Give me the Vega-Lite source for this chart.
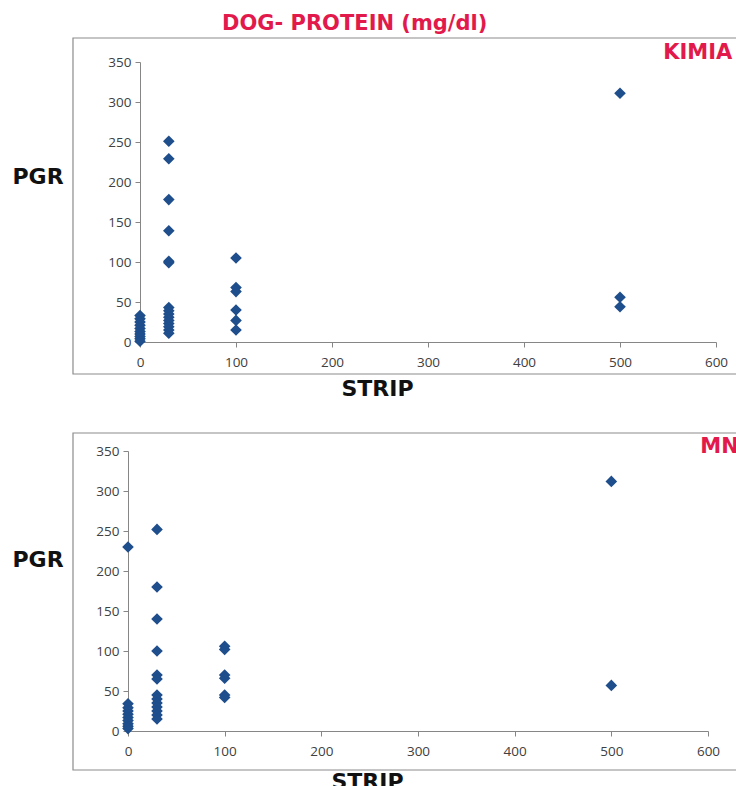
{
  "$schema": "https://vega.github.io/schema/vega-lite/v6.json",
  "background": "white",
  "padding": {"left": 12, "top": 13, "right": 0, "bottom": 0},
  "title": {"text": "DOG- PROTEIN (mg/dl)", "anchor": "start", "frame": "group", "dx": 94, "offset": -14, "baseline": "alphabetic", "font": "DejaVu Sans", "fontSize": 21, "fontWeight": "bold", "color": "#e21a4b"},
  "datasets": {
    "kimia": [
      {"strip": 0, "pgr": 33}, {"strip": 0, "pgr": 29}, {"strip": 0, "pgr": 25}, {"strip": 0, "pgr": 21}, {"strip": 0, "pgr": 17}, {"strip": 0, "pgr": 13}, {"strip": 0, "pgr": 10}, {"strip": 0, "pgr": 7}, {"strip": 0, "pgr": 4}, {"strip": 0, "pgr": 1},
      {"strip": 30, "pgr": 251}, {"strip": 30, "pgr": 229}, {"strip": 30, "pgr": 178}, {"strip": 30, "pgr": 139}, {"strip": 30, "pgr": 101}, {"strip": 30, "pgr": 99}, {"strip": 30, "pgr": 43}, {"strip": 30, "pgr": 39}, {"strip": 30, "pgr": 35}, {"strip": 30, "pgr": 31}, {"strip": 30, "pgr": 27}, {"strip": 30, "pgr": 23}, {"strip": 30, "pgr": 19}, {"strip": 30, "pgr": 15}, {"strip": 30, "pgr": 11},
      {"strip": 100, "pgr": 105}, {"strip": 100, "pgr": 68}, {"strip": 100, "pgr": 63}, {"strip": 100, "pgr": 40}, {"strip": 100, "pgr": 27}, {"strip": 100, "pgr": 15},
      {"strip": 500, "pgr": 311}, {"strip": 500, "pgr": 56}, {"strip": 500, "pgr": 44}
    ],
    "mn": [
      {"strip": 0, "pgr": 230}, {"strip": 0, "pgr": 34}, {"strip": 0, "pgr": 29}, {"strip": 0, "pgr": 25}, {"strip": 0, "pgr": 21}, {"strip": 0, "pgr": 17}, {"strip": 0, "pgr": 13}, {"strip": 0, "pgr": 9}, {"strip": 0, "pgr": 6}, {"strip": 0, "pgr": 3},
      {"strip": 30, "pgr": 252}, {"strip": 30, "pgr": 180}, {"strip": 30, "pgr": 140}, {"strip": 30, "pgr": 100}, {"strip": 30, "pgr": 70}, {"strip": 30, "pgr": 65}, {"strip": 30, "pgr": 45}, {"strip": 30, "pgr": 40}, {"strip": 30, "pgr": 35}, {"strip": 30, "pgr": 30}, {"strip": 30, "pgr": 25}, {"strip": 30, "pgr": 20}, {"strip": 30, "pgr": 15},
      {"strip": 100, "pgr": 106}, {"strip": 100, "pgr": 102}, {"strip": 100, "pgr": 70}, {"strip": 100, "pgr": 66}, {"strip": 100, "pgr": 45}, {"strip": 100, "pgr": 42},
      {"strip": 500, "pgr": 312}, {"strip": 500, "pgr": 57}
    ]
  },
  "bounds": "flush",
  "spacing": 109,
  "vconcat": [
    {
      "width": 588,
      "height": 280,
      "layer": [
        {
          "data": {"name": "kimia"},
          "mark": {"type": "point", "shape": "diamond", "filled": true, "size": 135, "color": "#1f4e8c", "opacity": 1, "clip": false},
          "encoding": {
            "x": {"field": "strip", "type": "quantitative", "scale": {"domain": [0, 600], "range": [12, 588], "nice": false, "zero": false},
              "axis": {"values": [0, 100, 200, 300, 400, 500, 600], "labelOverlap": false, "title": "STRIP", "titleX": 249, "titleY": 46, "titleAlign": "center", "titleBaseline": "middle", "labelPadding": 8}},
            "y": {"field": "pgr", "type": "quantitative", "scale": {"domain": [0, 350], "nice": false, "zero": false},
              "axis": {"values": [0, 50, 100, 150, 200, 250, 300, 350], "tickCount": 8, "labelOverlap": false, "labelFlush": false, "title": "PGR", "offset": -12, "titleX": -128, "titleY": 114, "titleAlign": "left", "titleBaseline": "middle", "titleAngle": 0, "labelPadding": 4}}
          }
        },
        {
          "data": {"values": [{}]},
          "mark": {"type": "rect", "filled": false, "color": "#8c8c8c", "strokeWidth": 1.2, "clip": false},
          "encoding": {
            "x": {"datum": -69.8, "type": "quantitative"},
            "x2": {"datum": 640},
            "y": {"datum": 380, "type": "quantitative"},
            "y2": {"datum": -40}
          }
        },
        {
          "data": {"values": [{}]},
          "mark": {"type": "text", "text": "KIMIA", "align": "left", "baseline": "middle", "font": "DejaVu Sans", "fontSize": 21, "fontWeight": "bold", "color": "#e21a4b", "clip": false},
          "encoding": {
            "x": {"datum": 545, "type": "quantitative"},
            "y": {"datum": 361, "type": "quantitative"}
          }
        }
      ]
    },
    {
      "width": 580,
      "height": 280,
      "layer": [
        {
          "data": {"name": "mn"},
          "mark": {"type": "point", "shape": "diamond", "filled": true, "size": 135, "color": "#1f4e8c", "opacity": 1, "clip": false},
          "encoding": {
            "x": {"field": "strip", "type": "quantitative", "scale": {"domain": [0, 600], "nice": false, "zero": false},
              "axis": {"values": [0, 100, 200, 300, 400, 500, 600], "labelOverlap": false, "title": "STRIP", "titleX": 239, "titleY": 50, "titleAlign": "center", "titleBaseline": "middle", "labelPadding": 8}},
            "y": {"field": "pgr", "type": "quantitative", "scale": {"domain": [0, 350], "nice": false, "zero": false},
              "axis": {"values": [0, 50, 100, 150, 200, 250, 300, 350], "tickCount": 8, "labelOverlap": false, "labelFlush": false, "title": "PGR", "titleX": -116, "titleY": 108, "titleAlign": "left", "titleBaseline": "middle", "titleAngle": 0, "labelPadding": 4}}
          }
        },
        {
          "data": {"values": [{}]},
          "mark": {"type": "rect", "filled": false, "color": "#8c8c8c", "strokeWidth": 1.2, "clip": false},
          "encoding": {
            "x": {"datum": -56.9, "type": "quantitative"},
            "x2": {"datum": 640},
            "y": {"datum": 372.5, "type": "quantitative"},
            "y2": {"datum": -48.75}
          }
        },
        {
          "data": {"values": [{}]},
          "mark": {"type": "text", "text": "MN", "align": "left", "baseline": "middle", "font": "DejaVu Sans", "fontSize": 21, "fontWeight": "bold", "color": "#e21a4b", "clip": false},
          "encoding": {
            "x": {"datum": 592, "type": "quantitative"},
            "y": {"datum": 355, "type": "quantitative"}
          }
        }
      ]
    }
  ],
  "config": {
    "view": {"stroke": null},
    "axis": {
      "grid": false,
      "labelOverlap": false,
      "labelFlush": false,
      "domainColor": "#868686",
      "tickColor": "#868686",
      "tickSize": 5,
      "domainWidth": 1,
      "labelFont": "Open Sans",
      "labelFontSize": 13.5,
      "labelColor": "#404040",
      "titleFont": "DejaVu Sans",
      "titleFontSize": 22,
      "titleFontWeight": "bold",
      "titleColor": "#111111"
    }
  }
}
